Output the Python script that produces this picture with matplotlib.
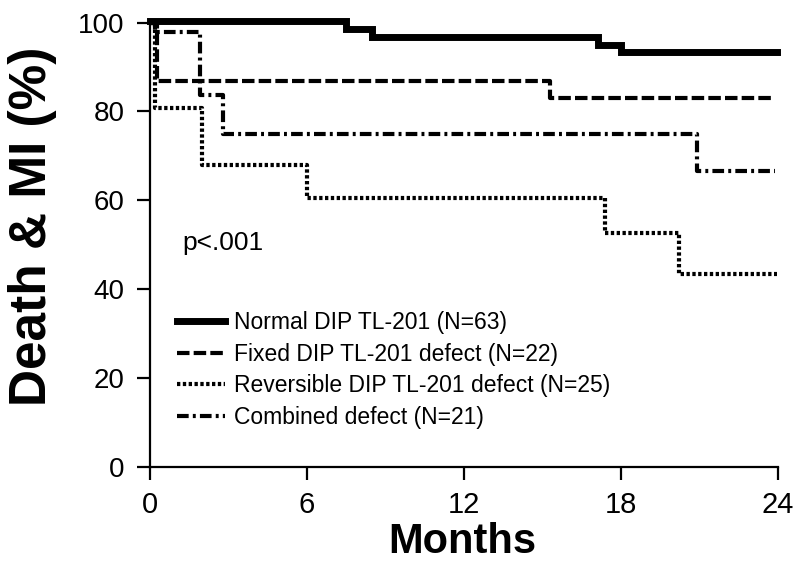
import matplotlib
matplotlib.use("Agg")
import matplotlib.pyplot as plt

plt.rcParams["font.family"] = ["Liberation Sans", "DejaVu Sans"]

# Kaplan-Meier style event-free curves (months, % free of death & MI)
normal_t = [0, 7.5, 8.5, 17.1, 18.0, 23.95]
normal_s = [100.4, 98.5, 96.7, 95.0, 93.3, 93.3]

fixed_t = [0, 0.25, 15.3, 23.75]
fixed_s = [100, 86.9, 83.1, 83.1]

reversible_t = [0, 0.2, 2.0, 6.0, 17.4, 20.2, 23.95]
reversible_s = [100, 80.7, 68.0, 60.5, 52.6, 43.4, 43.4]

combined_t = [0, 0.2, 1.9, 2.8, 20.9, 23.9]
combined_s = [100, 97.9, 83.7, 75.0, 66.6, 66.6]

labels = [
    "Normal DIP TL-201 (N=63)",
    "Fixed DIP TL-201 defect (N=22)",
    "Reversible DIP TL-201 defect (N=25)",
    "Combined defect (N=21)",
]

x_ticks = [0, 6, 12, 18, 24]
y_ticks = [0, 20, 40, 60, 80, 100]

fig = plt.figure(figsize=(7.95, 5.64), dpi=100)
ax = fig.add_axes([0.1887, 0.172, 0.79, 0.788])

styles = [
    dict(lw=5.0, ls="-", solid_joinstyle="miter"),
    dict(lw=3.0, ls=(0, (3.0, 1.0))),
    dict(lw=3.0, ls=(0, (0.8, 0.6))),
    dict(lw=3.0, ls=(0, (2.8, 1.0, 0.7, 1.0))),
]
series = [
    (normal_t, normal_s),
    (fixed_t, fixed_s),
    (reversible_t, reversible_s),
    (combined_t, combined_s),
]

handles = []
for (t, s), st, lab in zip(series, styles, labels):
    ln, = ax.step(t, s, where="post", color="black", clip_on=False,
                  label=lab, **st)
    handles.append(ln)

ax.set_xlim(0, 24)
ax.set_ylim(0, 100)
ax.set_xticks(x_ticks)
ax.set_yticks(y_ticks)

for side in ("top", "right"):
    ax.spines[side].set_visible(False)
for side in ("left", "bottom"):
    ax.spines[side].set_linewidth(1.6)

ax.tick_params(axis="both", direction="out", length=9.5, width=1.6)
ax.tick_params(axis="y", pad=9, labelsize=20)
ax.tick_params(axis="x", pad=8, labelsize=21)

fig.text(462 / 795, 1 - 542 / 564, "Months", fontsize=30,
         fontweight="bold", ha="center", va="center")
fig.text(33 / 795, 1 - 226 / 564, "Death & MI (%)", fontsize=37,
         fontweight="bold", ha="center", va="center", rotation=90)

ax.text(1.25, 50.4, "p<.001", fontsize=19, va="center", ha="left")

leg = ax.legend(handles=handles, loc="upper left",
                bbox_to_anchor=(0.043, 0.351), frameon=False,
                fontsize=16.5, handlelength=2.1, handletextpad=0.4,
                labelspacing=0.38, borderaxespad=0, borderpad=0)

fig.savefig("out.png", dpi=100)
